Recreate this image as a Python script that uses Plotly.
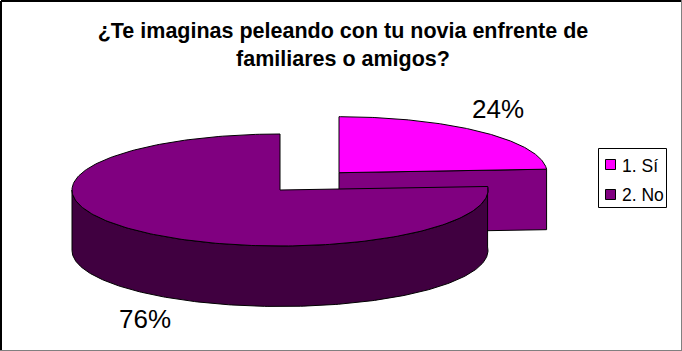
import numpy as np
import plotly.graph_objects as go

# Data
TITLE_LINES = ["¿Te imaginas peleando con tu novia enfrente de", "familiares o amigos?"]
CATEGORIES = ["1. Sí", "2. No"]
SHARES = [24, 76]
LABELS = ["24%", "76%"]

# Style and layout of the projected pie (pixel space of the 682x351 page)
W, H = 682, 351
TOP_COLORS = ["#FF00FF", "#800080"]
SIDE_COLORS = ["#800080", "#400040"]
CENTERS = [(339.0, 172.7), (280.0, 190.0)]   # second slice is offset by explosion
RX, RY, DEPTH = 208.0, 56.0, 60.5
FONT = "Liberation Sans, Arial, sans-serif"


def top_xy(center, start, end):
    t = np.radians(np.linspace(start, end, 241))
    x = center[0] + RX * np.sin(t)
    y = center[1] - RY * np.cos(t)
    return x, y


def poly(x, y, color, name):
    return go.Scatter(
        x=list(x) + [x[0]], y=list(y) + [y[0]], mode="lines", fill="toself",
        fillcolor=color, line=dict(color="black", width=1), name=name,
        showlegend=False, hoverinfo="name",
    )


# sweep angles, clockwise from twelve o'clock
fractions = np.array(SHARES) / sum(SHARES)
a1 = 360 * fractions[0]

fig = go.Figure()

# First slice: cut face, then top
cx, cy = CENTERS[0]
tx, ty = top_xy(CENTERS[0], 0, a1)
fig.add_trace(poly([cx, tx[-1], tx[-1], cx], [cy, ty[-1], ty[-1] + DEPTH, cy + DEPTH],
                   SIDE_COLORS[0], CATEGORIES[0]))
fig.add_trace(poly(np.r_[cx, tx], np.r_[cy, ty], TOP_COLORS[0], CATEGORIES[0]))

# Second slice: outer wall (right tip round the front to the far left), then top
cx, cy = CENTERS[1]
wx, wy = top_xy(CENTERS[1], a1, 270)
fig.add_trace(poly(np.r_[wx, wx[::-1]], np.r_[wy, wy[::-1] + DEPTH], SIDE_COLORS[1], CATEGORIES[1]))
tx, ty = top_xy(CENTERS[1], a1, 360)
fig.add_trace(poly(np.r_[cx, tx], np.r_[cy, ty], TOP_COLORS[1], CATEGORIES[1]))

annotations = []
def text(x, y, s, size, anchor="center"):
    annotations.append(dict(
        x=x, y=y, xref="x", yref="y", text=s, showarrow=False,
        font=dict(family=FONT, size=size, color="black"), xanchor=anchor, yanchor="middle",
    ))

text(497.5, 108.5, LABELS[0], 26)
text(144.5, 318.5, LABELS[1], 26)

# Legend box
shapes = [
    dict(type="rect", x0=598.5, x1=666.5, y0=148.5, y1=207.5, xref="x", yref="y",
         line=dict(color="black", width=1), fillcolor="white"),
]
for i, (cat, col) in enumerate(zip(CATEGORIES, TOP_COLORS)):
    yc = 164.5 + 30 * i
    shapes.append(dict(type="rect", x0=605.5, x1=615.5, y0=yc - 5, y1=yc + 5, xref="x", yref="y",
                       line=dict(color="black", width=1), fillcolor=col))
    text(620, yc + (1 if i == 0 else 0), cat, 17.5, anchor="left")

# Chart frame
shapes += [
    dict(type="line", x0=1, x1=681, y0=1, y1=1, line=dict(color="black", width=2)),
    dict(type="line", x0=1, x1=1, y0=1, y1=350, line=dict(color="black", width=2)),
    dict(type="line", x0=0, x1=682, y0=350.5, y1=350.5, line=dict(color="#808080", width=1)),
    dict(type="line", x0=681.5, x1=681.5, y0=0, y1=351, line=dict(color="#808080", width=1)),
]

fig.update_layout(
    width=W, height=H, margin=dict(l=0, r=0, t=0, b=0),
    paper_bgcolor="white", plot_bgcolor="white", showlegend=False,
    title=dict(
        text="<b>" + "<br>".join(TITLE_LINES) + "</b>",
        x=343 / W, xanchor="center", y=1 - 38 / H, yanchor="middle",
        font=dict(family=FONT, size=21.5, color="black"),
    ),
    xaxis=dict(range=[0, W], visible=False, fixedrange=True),
    yaxis=dict(range=[H, 0], visible=False, fixedrange=True),
    annotations=annotations, shapes=shapes,
)
fig.write_html("out.html", config=dict(displayModeBar=False),
               post_script="document.body.style.margin='0';document.body.style.overflow='hidden';")
